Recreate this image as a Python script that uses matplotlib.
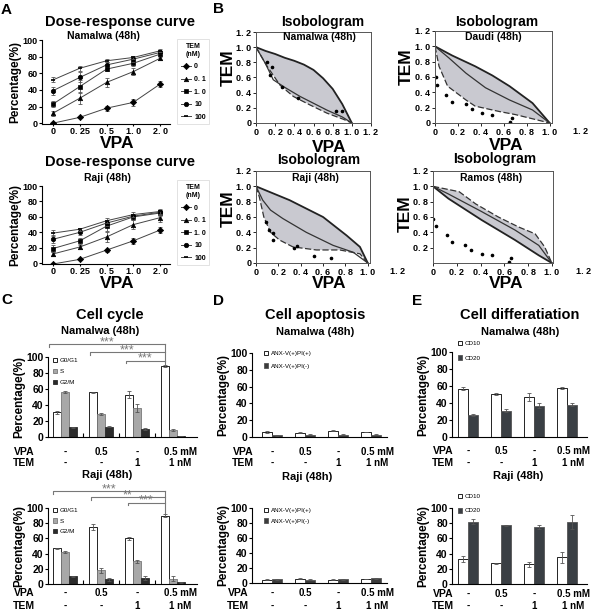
import numpy as np
import matplotlib
matplotlib.use('Agg')
import matplotlib.pyplot as plt
from matplotlib.transforms import blended_transform_factory

plt.rcParams['font.family'] = ['Liberation Sans', 'DejaVu Sans']
plt.rcParams['font.weight'] = 'bold'
plt.rcParams['axes.labelweight'] = 'bold'
plt.rcParams['axes.linewidth'] = 0.8

# ---------------- data ----------------
vpa_labels = ['0', '0. 25', '0. 5', '1. 0', '2. 0']
tem_labels = ['0', '0. 1', '1. 0', '10', '100']
tem_markers = ['D', '^', 's', 'o', '_']

namalwa_dose = [[0, 7, 18, 25, 47], [12, 30, 49, 62, 78], [23, 44, 65, 72, 83],
                [39, 55, 70, 77, 85], [52, 66, 75, 79, 87]]
namalwa_dose_err = [[1, 1, 3, 4, 4], [3, 7, 5, 4, 2], [4, 8, 2, 3, 2],
                    [5, 6, 3, 3, 2], [3, 3, 2, 2, 2]]
raji_dose = [[-1, 5, 17, 29, 43], [12, 21, 34, 50, 59], [19, 29, 48, 60, 65],
             [31, 40, 52, 61, 66], [39, 44, 55, 63, 67]]
raji_dose_err = [[1, 1, 2, 4, 4], [2, 3, 7, 6, 6], [4, 4, 6, 4, 4],
                 [5, 3, 4, 3, 3], [4, 2, 3, 3, 3]]

# isobolograms: (x, y) of upper, middle and lower curves and measured points
namalwa_upper = ([0, 0.1, 0.2, 0.3, 0.4, 0.5, 0.6, 0.7, 0.8, 0.9, 1.0],
                 [1.0, 0.95, 0.91, 0.86, 0.82, 0.77, 0.70, 0.59, 0.45, 0.25, 0.0])
namalwa_mid = ([0, 0.1, 0.18, 0.3, 0.46, 0.6, 0.74, 0.9, 1.0],
               [1.0, 0.78, 0.57, 0.47, 0.35, 0.26, 0.17, 0.08, 0.0])
namalwa_lower = ([0, 0.11, 0.25, 0.39, 0.56, 0.74, 0.91, 1.0],
                 [1.0, 0.76, 0.50, 0.35, 0.24, 0.13, 0.05, 0.0])
namalwa_pts = ([0.11, 0.15, 0.17, 0.27, 0.44, 0.83, 0.90],
               [0.80, 0.63, 0.74, 0.48, 0.33, 0.16, 0.16])

daudi_upper = ([0, 0.15, 0.35, 0.5, 0.65, 0.85, 1.0],
               [1.0, 0.88, 0.74, 0.62, 0.48, 0.26, 0.0])
daudi_mid = ([0, 0.12, 0.27, 0.44, 0.65, 0.85, 1.0],
             [1.0, 0.85, 0.65, 0.46, 0.30, 0.17, 0.0])
daudi_lower = ([0, 0.035, 0.11, 0.27, 0.35, 0.56, 0.70, 1.0],
               [1.0, 0.74, 0.48, 0.30, 0.22, 0.15, 0.11, 0.0])
daudi_pts = ([0.006, 0.015, 0.10, 0.15, 0.27, 0.32, 0.41, 0.50, 0.67, 0.65],
             [0.60, 0.49, 0.36, 0.28, 0.25, 0.18, 0.13, 0.10, 0.07, 0.01])

raji_upper = ([0, 0.3, 0.6, 0.81, 0.93, 1.0],
              [1.0, 0.82, 0.60, 0.36, 0.21, 0.0])
raji_mid = ([0, 0.06, 0.13, 0.24, 0.45, 0.69, 0.87, 1.0],
            [1.0, 0.82, 0.69, 0.58, 0.40, 0.23, 0.14, 0.0])
raji_lower = ([0, 0.03, 0.07, 0.13, 0.21, 0.33, 0.54, 0.75, 0.93, 1.0],
              [1.0, 0.86, 0.60, 0.40, 0.30, 0.21, 0.17, 0.17, 0.12, 0.0])
raji_pts = ([0.09, 0.12, 0.15, 0.15, 0.34, 0.37, 0.52, 0.67],
            [0.53, 0.43, 0.39, 0.30, 0.20, 0.22, 0.09, 0.07])

ramos_upper = ([0, 0.22, 0.36, 0.55, 0.72, 0.86, 0.94, 1.0],
               [1.0, 0.93, 0.77, 0.60, 0.47, 0.38, 0.21, 0.0])
ramos_mid = ([0, 0.13, 0.41, 0.69, 0.89, 1.0],
             [1.0, 0.90, 0.67, 0.43, 0.23, 0.0])
ramos_lower = ([0, 0.13, 0.41, 0.69, 0.89, 1.0],
               [1.0, 0.84, 0.56, 0.30, 0.10, 0.0])
ramos_pts = ([0.0, 0.025, 0.12, 0.16, 0.27, 0.32, 0.41, 0.50, 0.64, 0.66],
             [0.58, 0.48, 0.36, 0.28, 0.24, 0.17, 0.12, 0.10, 0.01, 0.07])

vpa_row = ['-', '0.5', '-', '0.5 mM']
tem_row = ['-', '-', '1', '1 nM']

namalwa_g0g1 = [31, 56, 53, 89]
namalwa_g0g1_err = [2, 0.5, 4, 1]
namalwa_s = [56, 29, 36, 9]
namalwa_s_err = [1, 1.5, 5, 1]
namalwa_g2m = [12, 13, 10, 1]
namalwa_g2m_err = [0.5, 0.5, 1, 0.2]
raji_g0g1 = [47, 75, 60, 90]
raji_g0g1_err = [0.5, 4, 2.5, 2]
raji_s = [42, 18, 30, 7]
raji_s_err = [1, 3, 2, 3]
raji_g2m = [10, 6, 8, 2]
raji_g2m_err = [0.5, 1.5, 3, 0.5]

namalwa_pipos = [6, 5, 7.5, 6]
namalwa_pipos_err = [1.5, 0.5, 0.5, 0.3]
namalwa_pineg = [2, 2.5, 2.5, 2.5]
namalwa_pineg_err = [0.5, 0.5, 0.5, 0.5]
raji_pipos = [4.5, 6, 4.5, 5.5]
raji_pipos_err = [0.5, 0.8, 0.5, 0.5]
raji_pineg = [5, 4.5, 5, 6.5]
raji_pineg_err = [0.5, 0.5, 0.5, 0.5]

namalwa_cd10 = [57, 51, 47, 58]
namalwa_cd10_err = [2, 1, 5, 1]
namalwa_cd20 = [26, 31, 37, 38]
namalwa_cd20_err = [1, 2, 3, 2]
raji_cd10 = [33, 27, 26, 35]
raji_cd10_err = [4, 1, 3, 7]
raji_cd20 = [82, 77, 75, 82]
raji_cd20_err = [3, 0.5, 3, 9]

# ---------------- figure ----------------
W, H = 600, 612
fig = plt.figure(figsize=(6, 6.12), dpi=100)


def px_axes(l, t, r, b):
    return fig.add_axes([l / W, 1 - b / H, (r - l) / W, (b - t) / H])


def ftext(x, y, s, **kw):
    kw.setdefault('ha', 'center')
    kw.setdefault('va', 'center')
    kw.setdefault('fontweight', 'bold')
    fig.text(x / W, 1 - y / H, s, **kw)


def open_axes(ax):
    ax.spines['top'].set_visible(False)
    ax.spines['right'].set_visible(False)
    ax.tick_params(labelsize=6.5, length=2, width=0.8, pad=1)


# ----- A: dose-response -----
def dose_panel(ax, values, errs, leg_top):
    x = np.arange(len(vpa_labels))
    handles = []
    for vals, err, mk in zip(values, errs, tem_markers):
        ax.errorbar(x, vals, yerr=err, fmt='none', ecolor='#555555',
                    elinewidth=0.6, capsize=1.5, capthick=0.6)
        h, = ax.plot(x, vals, color='#444444', lw=0.7, marker=mk, ms=3.2,
                     mfc='black', mec='black', mew=1.2 if mk == '_' else 0.5)
        handles.append(h)
    ax.set_xlim(-0.41, 4.37)
    ax.set_ylim(-1, 100)
    ax.set_xticks(x)
    ax.set_xticklabels(vpa_labels)
    ax.set_yticks(range(0, 101, 20))
    open_axes(ax)
    ax.tick_params(axis='x', length=1.5, pad=0.5)
    ax.set_ylabel('Percentage(%)', fontsize=8.5, labelpad=1)
    leg = ax.legend(handles, tem_labels, title='TEM\n(nM)', loc='upper left',
                    bbox_to_anchor=(174 / W, 1 - leg_top / H),
                    bbox_transform=fig.transFigure, fontsize=5, title_fontsize=5,
                    handlelength=1.4, handletextpad=0.5, labelspacing=0.8,
                    borderpad=0.5, fancybox=False, edgecolor='#cccccc')
    leg.get_frame().set_linewidth(0.5)


axA1 = px_axes(42, 40, 170, 124)
dose_panel(axA1, namalwa_dose, namalwa_dose_err, 36)
axA2 = px_axes(42, 186, 170, 264)
dose_panel(axA2, raji_dose, raji_dose_err, 177)
ftext(120, 22, 'Dose-response curve', fontsize=10.5)
ftext(103, 36, 'Namalwa (48h)', fontsize=7.5)
ftext(117, 143, 'VPA', fontsize=12.5)
ftext(120, 162, 'Dose-response curve', fontsize=10.5)
ftext(107, 178, 'Raji (48h)', fontsize=7.5)
ftext(117, 283, 'VPA', fontsize=12.5)


# ----- B: isobolograms -----
def iso_panel(ax, upper, mid, lower, pts, xmax, yticks, upper_dashed=False):
    ux, uy = upper
    lx, ly = lower
    ax.fill(np.r_[ux, lx[::-1]], np.r_[uy, ly[::-1]], color='#c9c9d0', lw=0)
    solid = dict(color='#222222', lw=1.3)
    dashed = dict(color='#333333', lw=0.9, ls=(0, (5, 2)))
    ax.plot(ux, uy, **(dashed if upper_dashed else solid))
    ax.plot(lx, ly, **(solid if upper_dashed else dashed))
    ax.plot(mid[0], mid[1], color='#333333', lw=0.9)
    ax.plot(pts[0], pts[1], ls='none', marker='o', ms=1.6, color='black')
    ax.set_xlim(0, xmax)
    ax.set_ylim(0, 1.2)
    xt = [t for t in [0, 0.2, 0.4, 0.6, 0.8, 1.0, 1.2] if t <= xmax + 1e-9]
    ax.set_xticks(xt)
    ax.set_xticklabels(['0' if t == 0 else '%.0f. %.0f' % (int(t), round((t % 1) * 10)) for t in xt])
    ax.set_yticks(yticks)
    ax.set_yticklabels(['0' if t == 0 else '%.0f. %.0f' % (int(t), round((t % 1) * 10)) for t in yticks])
    for s in ax.spines.values():
        s.set_color('#555555')
        s.set_linewidth(0.7)
    ax.tick_params(labelsize=6.5, length=2, width=0.6, pad=1.5)
    if xmax < 1.2:
        ax.text(1.27, -0.045, '1. 2', transform=ax.get_xaxis_transform(),
                ha='center', va='top', fontsize=6.5, clip_on=False)


yt_full = [0, 0.2, 0.4, 0.6, 0.8, 1.0, 1.2]
axB1 = px_axes(256, 32, 371, 123)
iso_panel(axB1, namalwa_upper, namalwa_mid, namalwa_lower, namalwa_pts, 1.2, yt_full)
axB2 = px_axes(435, 31, 552, 123)
iso_panel(axB2, daudi_upper, daudi_mid, daudi_lower, daudi_pts, 1.02, yt_full)
axB3 = px_axes(256, 171, 370, 263)
iso_panel(axB3, raji_upper, raji_mid, raji_lower, raji_pts, 1.02, yt_full)
axB4 = px_axes(433, 171, 553, 263)
iso_panel(axB4, ramos_upper, ramos_mid, ramos_lower, ramos_pts, 1.01,
          [0.2, 0.4, 0.6, 0.8, 1.0, 1.2], upper_dashed=True)

for (tx, ty, sub, sy, vx, vy, mx, my) in [
        (323, 22, 'Namalwa (48h)', 37, 329, 147, 228, 68),
        (497, 22, 'Daudi (48h)', 37, 506, 146, 406, 67),
        (319, 160, 'Raji (48h)', 178, 329, 283, 228, 209),
        (495, 159, 'Ramos (48h)', 178, 506, 284, 405, 214)]:
    ftext(tx, ty, 'Isobologram', fontsize=10)
    ftext(tx - 4, sy, sub, fontsize=7.5)
    ftext(vx, vy, 'VPA', fontsize=12.5)
    ftext(mx, my, 'TEM', fontsize=12.5, rotation=90)


# ----- C/D/E: bar panels -----
def treatment_rows(ax, label_x, y_vpa, y_tem):
    tr = blended_transform_factory(ax.transData, fig.transFigure)
    for i, (v, t) in enumerate(zip(vpa_row, tem_row)):
        dx = 0.2 if i == 3 else 0
        ax.text(i + dx, 1 - y_vpa / H, v, transform=tr, ha='center', va='center', fontsize=7)
        ax.text(i + dx, 1 - y_tem / H, t, transform=tr, ha='center', va='center', fontsize=7)
    ftext(label_x, y_vpa, 'VPA', fontsize=7.5)
    ftext(label_x, y_tem, 'TEM', fontsize=7.5)


def bar_axes(ax, xlim):
    ax.set_xlim(*xlim)
    ax.set_ylim(0, 100)
    ax.set_yticks(range(0, 101, 20))
    open_axes(ax)
    ax.tick_params(axis='y', labelsize=7.5)
    ax.set_ylabel('Percentage(%)', fontsize=8.5, labelpad=1)


def small_legend(ax, handles, labels, x, y, spacing):
    leg = ax.legend(handles, labels, loc='upper left', bbox_to_anchor=(x / W, 1 - y / H),
                    bbox_transform=fig.transFigure, fontsize=4.5, frameon=False,
                    handlelength=0.7, handleheight=0.7, handletextpad=0.4,
                    labelspacing=spacing, borderpad=0, borderaxespad=0)
    for t in leg.get_texts():
        t.set_fontweight('normal')


ekw = dict(ecolor='#555555', elinewidth=0.6, capsize=1.5, capthick=0.6)


def cycle_panel(ax, g1, g1e, s, se, g2, g2e, leg_y, spacing):
    x = np.arange(4)
    w = 0.22
    b1 = ax.bar(x - w, g1, w, yerr=g1e, color='white', edgecolor='black', lw=0.6, error_kw=ekw)
    b2 = ax.bar(x, s, w, yerr=se, color='#a8a8a8', edgecolor='#777777', lw=0.6, error_kw=ekw)
    b3 = ax.bar(x + w, g2, w, yerr=g2e, color='#2b2b2b', edgecolor='#2b2b2b', lw=0.6, error_kw=ekw)
    bar_axes(ax, (-0.47, 3.67))
    ax.set_xticks([0.5, 1.5, 2.5])
    ax.set_xticklabels([])
    ax.tick_params(axis='x', direction='in', length=3)
    small_legend(ax, [b1, b2, b3], ['G0/G1', 'S', 'G2/M'], 53, leg_y, spacing)


def brackets(ax, starts, levels, stars, top_end):
    gc = '#777777'
    end = 3 - 0.22
    for st, lv, sg in zip(starts, levels, stars):
        ax.plot([st, st, end], [lv - 3, lv, lv], color=gc, lw=0.8, clip_on=False)
        ax.text((st + end) / 2, lv - 1, sg, ha='center', va='baseline', fontsize=9,
                color=gc, fontweight='normal', clip_on=False)
    ax.plot([end, end], [levels[0], top_end], color=gc, lw=0.8, clip_on=False)


axC1 = px_axes(48, 357, 197, 437)
cycle_panel(axC1, namalwa_g0g1, namalwa_g0g1_err, namalwa_s, namalwa_s_err,
            namalwa_g2m, namalwa_g2m_err, 358, 0.9)
brackets(axC1, [-0.45, 0.7, 1.7], [116, 106, 95], ['***', '***', '***'], 91)
treatment_rows(axC1, 24, 452, 463)

axC2 = px_axes(48, 508, 197, 584)
cycle_panel(axC2, raji_g0g1, raji_g0g1_err, raji_s, raji_s_err,
            raji_g2m, raji_g2m_err, 508, 0.8)
brackets(axC2, [-0.33, 0.72, 1.75], [122, 114, 107], ['***', '**', '***'], 93)
treatment_rows(axC2, 24, 593, 606)

ftext(110, 315, 'Cell cycle', fontsize=10.5)
ftext(100, 331, 'Namalwa (48h)', fontsize=8)
ftext(107, 475, 'Raji (48h)', fontsize=8)


def pair_panel(ax, a, ae, b, be, labels, dark, xlim, leg_x, leg_y, spacing):
    x = np.arange(4)
    w = 0.3
    h1 = ax.bar(x - w / 2, a, w, yerr=ae, color='white', edgecolor='black', lw=0.6, error_kw=ekw)
    h2 = ax.bar(x + w / 2, b, w, yerr=be, color=dark, edgecolor='#555555', lw=0.6, error_kw=ekw)
    bar_axes(ax, xlim)
    ax.set_xticks([])
    small_legend(ax, [h1, h2], labels, leg_x, leg_y, spacing)


anx_labels = ['ANX-V(+)PI(+)', 'ANX-V(+)PI(-)']
axD1 = px_axes(252, 353, 387, 437)
pair_panel(axD1, namalwa_pipos, namalwa_pipos_err, namalwa_pineg, namalwa_pineg_err,
           anx_labels, '#3c3c3c', (-0.606, 3.485), 264, 351, 1.1)
treatment_rows(axD1, 243, 452, 463)
axD2 = px_axes(252, 508, 387, 583)
pair_panel(axD2, raji_pipos, raji_pipos_err, raji_pineg, raji_pineg_err,
           anx_labels, '#3c3c3c', (-0.606, 3.485), 264, 508, 0.8)
treatment_rows(axD2, 238, 593, 606)
ftext(315, 315, 'Cell apoptosis', fontsize=10.5)
ftext(315, 332, 'Namalwa (48h)', fontsize=8)
ftext(307, 477, 'Raji (48h)', fontsize=8)

cd_labels = ['CD10', 'CD20']
axE1 = px_axes(452, 352, 587, 437)
pair_panel(axE1, namalwa_cd10, namalwa_cd10_err, namalwa_cd20, namalwa_cd20_err,
           cd_labels, '#3a3f44', (-0.485, 3.606), 458, 341, 1.4)
treatment_rows(axE1, 443, 451, 463)
axE2 = px_axes(452, 508, 587, 584)
pair_panel(axE2, raji_cd10, raji_cd10_err, raji_cd20, raji_cd20_err,
           cd_labels, '#3a3f44', (-0.485, 3.606), 458, 494, 1.4)
treatment_rows(axE2, 443, 594, 606)
ftext(520, 315, 'Cell differatiation', fontsize=10.5)
ftext(520, 332, 'Namalwa (48h)', fontsize=8)
ftext(518, 476, 'Raji (48h)', fontsize=8)

# panel letters
for lx, ly, s in [(6, 10, 'A'), (219, 9, 'B'), (7, 300, 'C'), (219, 301, 'D'), (417, 301, 'E')]:
    ftext(lx, ly, s, fontsize=11)

fig.savefig('out.png', dpi=100)
